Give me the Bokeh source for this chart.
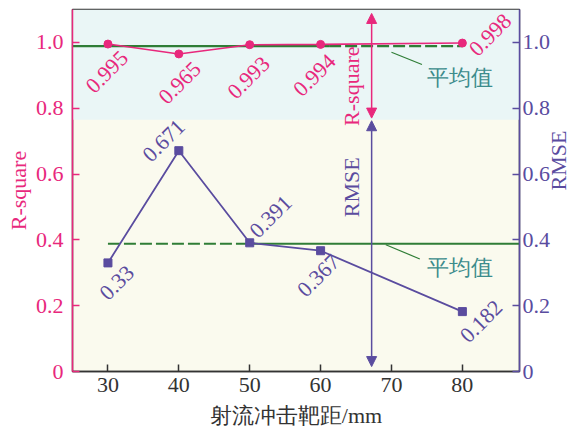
import math
from bokeh.plotting import figure
from bokeh.models import (Range1d, LinearAxis, FixedTicker, BoxAnnotation, Arrow,
                          NormalHead, Label, PrintfTickFormatter)
from bokeh.core.properties import value
from bokeh.embed import file_html
from bokeh.resources import INLINE

# ---- data ----
distance = [30, 40, 50, 60, 80]
r_square = [0.995, 0.965, 0.993, 0.994, 0.998]
rmse = [0.33, 0.671, 0.391, 0.367, 0.182]
r_labels = ["0.995", "0.965", "0.993", "0.994", "0.998"]
rmse_labels = ["0.33", "0.671", "0.391", "0.367", "0.182"]
x_ticks = [30, 40, 50, 60, 70, 80]
y_ticks = [0, 0.2, 0.4, 0.6, 0.8, 1.0]
r_mean = sum(r_square) / len(r_square)
rmse_mean = sum(rmse) / len(rmse)

PINK = "#e8287c"
PURPLE = "#5a4c9f"
GREEN = "#2f7d36"
TEAL = "#3c8c8c"
DARK = "#333333"
SERIF = "Liberation Serif"
FS = "22px"

X0, X1 = 25, 88.06
p = figure(width=586, height=430, output_backend="svg", toolbar_location=None,
           x_range=Range1d(X0, X1), y_range=Range1d(0, 1.1),
           min_border_left=72, min_border_right=60, min_border_top=9, min_border_bottom=58)
p.extra_y_ranges = {"right": Range1d(0, 1.1)}
p.grid.visible = False
p.background_fill_color = "#fafaee"
p.border_fill_color = "white"
p.outline_line_color = DARK
p.outline_line_width = 1.5

# background band for R-square region
p.add_layout(BoxAnnotation(bottom=0.765, fill_color="#eaf6f6", fill_alpha=1.0,
                           line_color=None, level="underlay"))

# axes
xa = p.xaxis[0]
xa.ticker = FixedTicker(ticks=x_ticks)
xa.axis_label = "射流冲击靶距/mm"
xa.axis_line_color = DARK
xa.major_tick_line_color = DARK
xa.major_label_text_color = DARK
xa.axis_label_text_color = DARK

ya = p.yaxis[0]
ya.ticker = FixedTicker(ticks=y_ticks)
ya.formatter = PrintfTickFormatter(format="%.1f")
ya.major_label_overrides = {0: "0"}
ya.axis_label = "R-square"
ya.axis_line_color = PINK
ya.major_tick_line_color = PINK
ya.major_label_text_color = PINK
ya.axis_label_text_color = PINK

ra = LinearAxis(y_range_name="right", ticker=FixedTicker(ticks=y_ticks),
                formatter=PrintfTickFormatter(format="%.1f"), axis_label="RMSE")
ra.major_label_overrides = {0: "0"}
ra.axis_line_color = PURPLE
ra.major_tick_line_color = PURPLE
ra.major_label_text_color = PURPLE
ra.axis_label_text_color = PURPLE
if "axis_label_orientation" in ra.properties():
    ra.axis_label_orientation = math.pi / 2
p.add_layout(ra, "right")

for ax in [xa, ya, ra]:
    ax.major_tick_in = 7
    ax.major_tick_out = 0
    ax.minor_tick_line_color = None
    ax.axis_line_width = 1.5
    ax.major_tick_line_width = 1.5
    ax.major_label_text_font = SERIF
    ax.major_label_text_font_size = FS
    ax.axis_label_text_font = SERIF
    ax.axis_label_text_font_size = FS
    ax.axis_label_text_font_style = "normal"
xa.major_label_standoff = 6
xa.axis_label_standoff = 8
ya.major_label_standoff = 9
ya.axis_label_standoff = 2
ra.major_label_standoff = 3
ra.axis_label_standoff = 5

# mean lines
p.line([X0, 61.2], [r_mean, r_mean], line_color=GREEN, line_width=2.2)
p.line([61.2, 80], [r_mean, r_mean], line_color=GREEN, line_width=2.2, line_dash="12 4")
p.line([30, 50], [rmse_mean, rmse_mean], line_color=GREEN, line_width=2.2, line_dash="12 4")
p.line([50, X1], [rmse_mean, rmse_mean], line_color=GREEN, line_width=2.2)

# series
p.line(distance, r_square, line_color=PINK, line_width=1.6)
p.scatter(distance, r_square, marker="circle", size=8, fill_color=PINK, line_color=PINK)
p.line(distance, rmse, line_color=PURPLE, line_width=1.8)
p.scatter(distance, rmse, marker="square", size=8, fill_color=PURPLE, line_color=PURPLE)

# data labels (screen offsets)
r_off = [(-1, 28), (1, 29), (-1, 33), (-6, 31), (28, -8)]
m_off = [(9, 20), (-15, -10), (21, -26), (-2, 25), (19, 10)]
for xs, ys, labs, offs, col in [(distance, r_square, r_labels, r_off, PINK),
                                (distance, rmse, rmse_labels, m_off, PURPLE)]:
    for xv, yv, t, (dx, dy) in zip(xs, ys, labs, offs):
        p.text([xv], [yv], text=[t], angle=math.pi / 4, x_offset=dx, y_offset=dy,
               text_align="center", text_baseline="middle", text_color=col,
               text_font=value(SERIF), text_font_size=FS)

# double arrows
p.add_layout(Arrow(x_start=67.2, y_start=0.77, x_end=67.2, y_end=1.088,
                   line_color=PINK, line_width=1.5,
                   start=NormalHead(size=10, fill_color=PINK, line_color=PINK),
                   end=NormalHead(size=10, fill_color=PINK, line_color=PINK)))
p.add_layout(Arrow(x_start=67.2, y_start=0.015, x_end=67.2, y_end=0.762,
                   line_color=PURPLE, line_width=1.5,
                   start=NormalHead(size=10, fill_color=PURPLE, line_color=PURPLE),
                   end=NormalHead(size=10, fill_color=PURPLE, line_color=PURPLE)))
p.add_layout(Label(x=64.4, y=0.867, text="R-square", angle=math.pi / 2,
                   text_align="center", text_baseline="middle", text_color=PINK,
                   text_font=SERIF, text_font_size=FS))
p.add_layout(Label(x=64.4, y=0.56, text="RMSE", angle=math.pi / 2,
                   text_align="center", text_baseline="middle", text_color=PURPLE,
                   text_font=SERIF, text_font_size=FS))

# mean annotations
p.segment(x0=[70.0, 69.2], y0=[0.970, 0.385], x1=[74.3, 74.0], y1=[0.933, 0.342],
          line_color=GREEN, line_width=1.2)
for yy in [0.894, 0.315]:
    p.add_layout(Label(x=75.0, y=yy, text="平均值", text_align="left", text_baseline="middle",
                       text_color=TEAL, text_font=SERIF, text_font_size=FS))

open("out.html", "w").write(file_html(p, INLINE))
